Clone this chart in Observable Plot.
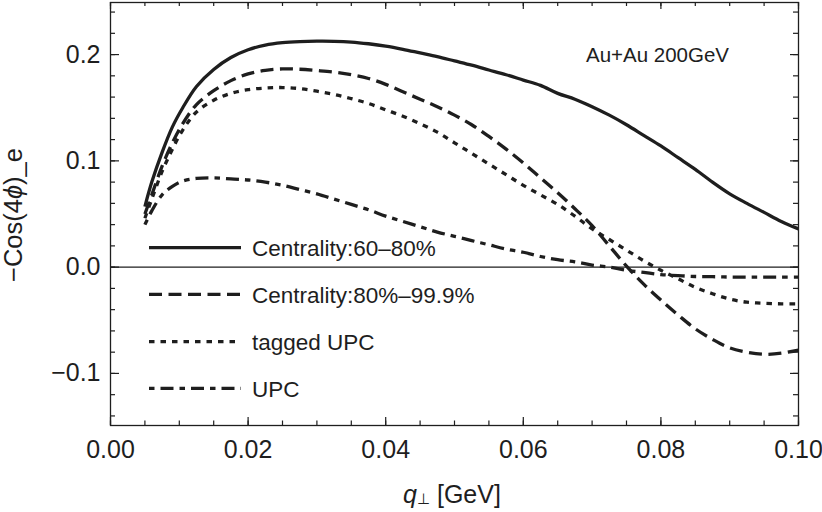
<!DOCTYPE html>
<html><head><meta charset="utf-8">
<script src="https://cdn.jsdelivr.net/npm/d3@7"></script>
<script src="https://cdn.jsdelivr.net/npm/@observablehq/plot@0.6"></script>
<style>
body{margin:0;background:#fff;}
#chart{position:relative;width:822px;height:512px;}
</style></head><body><div id="chart"></div>
<script>
// ---- data ----
const q = [0.005,0.006,0.0075,0.009,0.0105,0.0125,0.015,0.0175,0.02,0.0225,0.025,0.0275,0.03,0.0325,0.035,0.0375,0.04,0.0425,0.045,0.0475,0.05,0.0525,0.055,0.0575,0.06,0.0625,0.065,0.0675,0.07,0.0725,0.075,0.0775,0.08,0.0825,0.085,0.0875,0.09,0.0925,0.095,0.0975,0.1];
const central6080 = [0.057,0.080,0.108,0.132,0.150,0.170,0.186,0.1972,0.2045,0.209,0.2112,0.2122,0.2126,0.2125,0.2118,0.2102,0.208,0.205,0.2015,0.198,0.194,0.190,0.1855,0.181,0.176,0.171,0.1635,0.158,0.151,0.143,0.134,0.124,0.114,0.103,0.092,0.080,0.069,0.060,0.0515,0.043,0.036];
const central8099 = [0.050,0.068,0.095,0.117,0.135,0.153,0.166,0.1755,0.1818,0.1852,0.1865,0.1862,0.185,0.1835,0.181,0.1775,0.172,0.165,0.158,0.151,0.143,0.134,0.123,0.111,0.098,0.084,0.070,0.055,0.039,0.020,0.001,-0.016,-0.031,-0.045,-0.058,-0.068,-0.076,-0.080,-0.082,-0.081,-0.078];
const taggedUPC = [0.046,0.064,0.090,0.111,0.129,0.146,0.157,0.1635,0.167,0.1685,0.169,0.168,0.1655,0.1625,0.1585,0.154,0.148,0.142,0.135,0.127,0.117,0.107,0.097,0.087,0.077,0.068,0.059,0.048,0.036,0.026,0.016,0.006,-0.003,-0.011,-0.019,-0.025,-0.030,-0.033,-0.034,-0.0345,-0.0345];
const upc = [0.040,0.053,0.068,0.076,0.081,0.0835,0.084,0.083,0.082,0.080,0.077,0.073,0.069,0.064,0.059,0.054,0.048,0.043,0.038,0.033,0.029,0.025,0.021,0.017,0.014,0.010,0.007,0.005,0.002,0.000,-0.003,-0.005,-0.007,-0.008,-0.0088,-0.009,-0.0093,-0.0094,-0.0094,-0.0094,-0.0094];
const seriesNames = ["Centrality:60\u201380%", "Centrality:80%\u201399.9%", "tagged UPC", "UPC"];
const xTickValues = [0, 0.02, 0.04, 0.06, 0.08, 0.1];
const yTickValues = [-0.1, 0, 0.1, 0.2];
const xMinorValues = d3.range(0, 21).map(i => i * 0.005);
const yMinorValues = d3.range(-7, 13).map(i => i * 0.02);
const annotation = "Au+Au 200GeV";

// ---- styles ----
const ink = "#1e1e1e";
const dashes = [null, "13,6.5", "5.5,6", "5.5,6,13,6"];
const seriesValues = [central6080, central8099, taggedUPC, upc];

const W = 822, H = 512, mt = 2, mb = 87, ml = 110, mr = 24;
const innerH = H - mt - mb, innerW = W - ml - mr;

const lineMarks = seriesValues.map((vals, k) =>
  Plot.line(q.map((x, i) => ({q: x, v: vals[i], s: seriesNames[k]})), {
    x: "q", y: "v", stroke: ink, strokeWidth: 3.3,
    strokeDasharray: dashes[k] || undefined, strokeLinecap: "butt",
    curve: "catmull-rom"
  })
);

const tickStyle = {stroke: ink, strokeWidth: 1.2};
const chart = Plot.plot({
  width: W, height: H,
  marginTop: mt, marginBottom: mb, marginLeft: ml, marginRight: mr,
  x: {domain: [0, 0.1]},
  y: {domain: [-0.149, 0.249]},
  style: {fontFamily: "'Liberation Sans', Arial, sans-serif", fontSize: "25px", color: ink, background: "#fff"},
  marks: [
    Plot.ruleY([0], {stroke: ink, strokeWidth: 1.2}),
    ...lineMarks,
    // inward frame ticks on all four sides
    Plot.ruleX(xMinorValues, {insetTop: innerH - 4.5, ...tickStyle}),
    Plot.ruleX(xTickValues, {insetTop: innerH - 8, ...tickStyle}),
    Plot.ruleX(xMinorValues, {insetBottom: innerH - 4, ...tickStyle}),
    Plot.ruleX(xTickValues, {insetBottom: innerH - 7, ...tickStyle}),
    Plot.ruleY(yMinorValues, {insetRight: innerW - 5, ...tickStyle}),
    Plot.ruleY(yTickValues, {insetRight: innerW - 9, ...tickStyle}),
    Plot.ruleY(yMinorValues, {insetLeft: innerW - 5, ...tickStyle}),
    Plot.ruleY(yTickValues, {insetLeft: innerW - 8, ...tickStyle}),
    Plot.frame({stroke: ink, strokeWidth: 1.3}),
    Plot.axisX({ticks: xTickValues, tickFormat: d3.format(".2f"), tickSize: 0, tickPadding: 15, label: null}),
    Plot.axisY({ticks: yTickValues, tickFormat: d3.format(".1f"), tickSize: 0, tickPadding: 10, label: null})
  ]
});
document.getElementById("chart").appendChild(chart);

const svg = d3.select(chart);
const font = "'Liberation Sans', Arial, sans-serif";

// y-axis label
const yl = svg.append("text")
  .attr("transform", "translate(22,215) rotate(-90)")
  .attr("text-anchor", "middle").attr("font-family", font).attr("font-size", 25.5).attr("fill", ink);
yl.append("tspan").text("\u2212Cos(4");
yl.append("tspan").attr("font-style", "italic").text("\u03d5");
yl.append("tspan").text(")_e");

// x-axis label
const xl = svg.append("text")
  .attr("x", 452).attr("y", 502.5)
  .attr("text-anchor", "middle").attr("font-family", font).attr("font-size", 25).attr("fill", ink);
xl.append("tspan").attr("font-style", "italic").text("q");
xl.append("tspan").attr("font-size", 15).attr("dy", 1).text("\u22a5");
xl.append("tspan").attr("dy", -1).text(" [GeV]");

// annotation
svg.append("text").attr("x", 586).attr("y", 61.7).attr("text-anchor", "start")
  .attr("font-family", font).attr("font-size", 20.5).attr("fill", ink).text(annotation);

// legend
const lg = svg.append("g").attr("text-anchor", "start");
const legendY = [247.7, 294.3, 341.7, 388.3];
seriesNames.forEach((name, k) => {
  lg.append("line").attr("x1", 149).attr("x2", 241)
    .attr("y1", legendY[k]).attr("y2", legendY[k])
    .attr("stroke", ink).attr("stroke-width", 3.3)
    .attr("stroke-dasharray", dashes[k] || null);
  lg.append("text").attr("x", 252).attr("y", legendY[k] + 8.2).attr("text-anchor", "start")
    .attr("font-family", font).attr("font-size", 22.5).attr("fill", ink).text(name);
});
</script>
</body></html>
